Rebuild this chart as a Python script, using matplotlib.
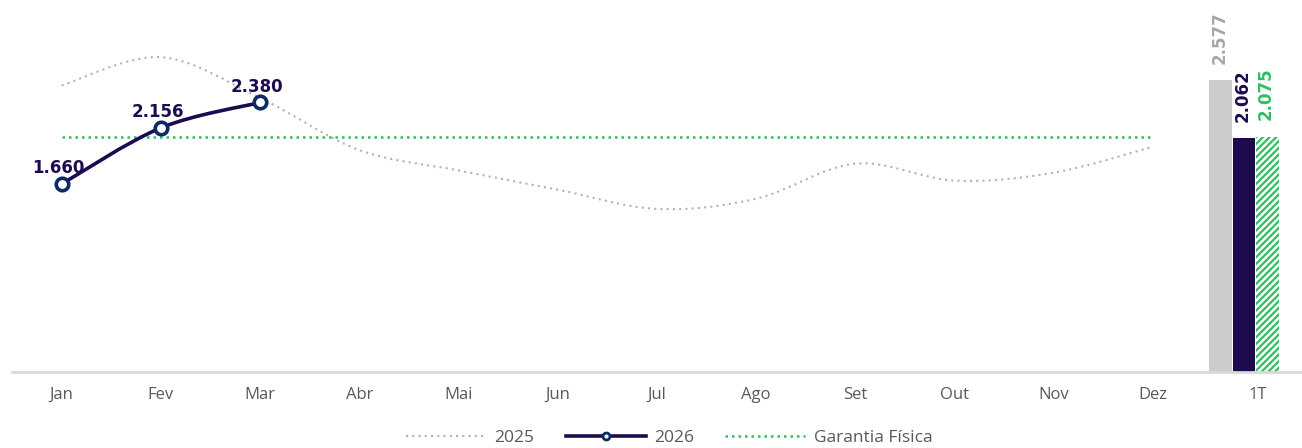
import matplotlib.pyplot as plt
import numpy as np
from matplotlib.path import Path
from matplotlib.patches import PathPatch
from matplotlib.lines import Line2D

# dados
meses = ['Jan', 'Fev', 'Mar', 'Abr', 'Mai', 'Jun', 'Jul', 'Ago', 'Set', 'Out', 'Nov', 'Dez']
v2025 = [2.53, 2.78, 2.42, 1.96, 1.78, 1.61, 1.44, 1.53, 1.84, 1.69, 1.76, 1.99]
v2026 = [1.660, 2.156, 2.380]
garantia = 2.075
trimestre = '1T'
barras = [2.577, 2.062, 2.075]

cor_2025 = '#b3b3b3'
cor_2026 = '#1e0b4f'
cor_marker = '#0d2a66'
cor_verde = '#2fbf5f'
cor_txt = '#595959'
fonte = ['Open Sans', 'DejaVu Sans']

plt.rcParams['hatch.linewidth'] = 1.6


def curva_suave(xs, ys):
    # catmull-rom -> bezier para desenhar linha suave
    pts = np.column_stack([xs, ys]).astype(float)
    verts = [pts[0]]
    codes = [Path.MOVETO]
    n = len(pts)
    for i in range(n - 1):
        p0 = pts[max(i - 1, 0)]
        p1 = pts[i]
        p2 = pts[i + 1]
        p3 = pts[min(i + 2, n - 1)]
        c1 = p1 + (p2 - p0) / 6
        c2 = p2 - (p3 - p1) / 6
        verts += [c1, c2, p2]
        codes += [Path.CURVE4] * 3
    return Path(verts, codes)


fig = plt.figure(figsize=(13.02, 4.48), dpi=100)
ax = fig.add_axes([12 / 1302, 76 / 448, 1 - 12 / 1302, 1 - 76 / 448])

x = np.arange(len(meses))

# 2025
ax.add_patch(PathPatch(curva_suave(x, v2025), fill=False, edgecolor=cor_2025,
                       lw=1.5, linestyle=(0, (1, 2)), zorder=2))

# garantia fisica
ax.plot([x[0], x[-1]], [garantia, garantia], color=cor_verde, lw=1.8,
        linestyle=(0, (1, 1.6)), zorder=2)

# 2026
x26 = x[:len(v2026)]
ax.add_patch(PathPatch(curva_suave(x26, v2026), fill=False, edgecolor=cor_2026,
                       lw=2.6, zorder=3))
ax.plot(x26, v2026, 'o', ms=9, mfc='white', mec=cor_marker, mew=2.6, zorder=4)
for xi, v in zip(x26, v2026):
    ax.annotate(f'{v:.3f}', (xi, v), xytext=(-2, 5), textcoords='offset points',
                ha='center', va='bottom', fontsize=12, fontweight='bold',
                family='DejaVu Sans', color=cor_2026, zorder=5)

# barras do trimestre
bx = [11.68, 11.915, 12.15]
w = 0.23
ax.bar(bx[0], barras[0], width=w, color='#cccccc', zorder=2)
ax.bar(bx[1], barras[1], width=w, color=cor_2026, zorder=2)
ax.bar(bx[2], barras[2], width=w, color='white', edgecolor=cor_verde,
       hatch='/////', lw=0, zorder=2)
cores_lab = ['#a6a6a6', cor_2026, cor_verde]
for xi, v, c in zip(bx, barras, cores_lab):
    ax.annotate(f'{v:.3f}', (xi, v), xytext=(-1, 12), textcoords='offset points',
                ha='center', va='bottom', rotation=90, fontsize=12,
                fontweight='bold', family='DejaVu Sans', color=c)

ax.set_xlim(-0.5, 12.5)
ax.set_ylim(0, 3.285)
ax.set_xticks(list(x) + [12.05])
ax.set_xticklabels(meses + [trimestre], color=cor_txt, fontsize=12, family=fonte)
ax.tick_params(axis='x', length=0, pad=11)
ax.set_yticks([])
for s in ['top', 'right', 'left']:
    ax.spines[s].set_visible(False)
ax.spines['bottom'].set_color('#d9d9d9')
ax.spines['bottom'].set_linewidth(2)

handles = [
    Line2D([], [], color=cor_2025, lw=1.5, linestyle=(0, (1, 2))),
    Line2D([], [], color=cor_2026, lw=2.6, marker='o', ms=5, mfc='white',
           mec=cor_marker, mew=2),
    Line2D([], [], color=cor_verde, lw=1.8, linestyle=(0, (1, 1.6))),
]
fig.legend(handles, ['2025', '2026', 'Garantia Física'], loc='center',
           bbox_to_anchor=(0.514, 10 / 448), ncol=3,
           frameon=False, handlelength=4.6, columnspacing=1.8, handletextpad=0.5,
           prop={'family': fonte, 'size': 12.5}, labelcolor=cor_txt)

fig.savefig('out.png', dpi=100)
